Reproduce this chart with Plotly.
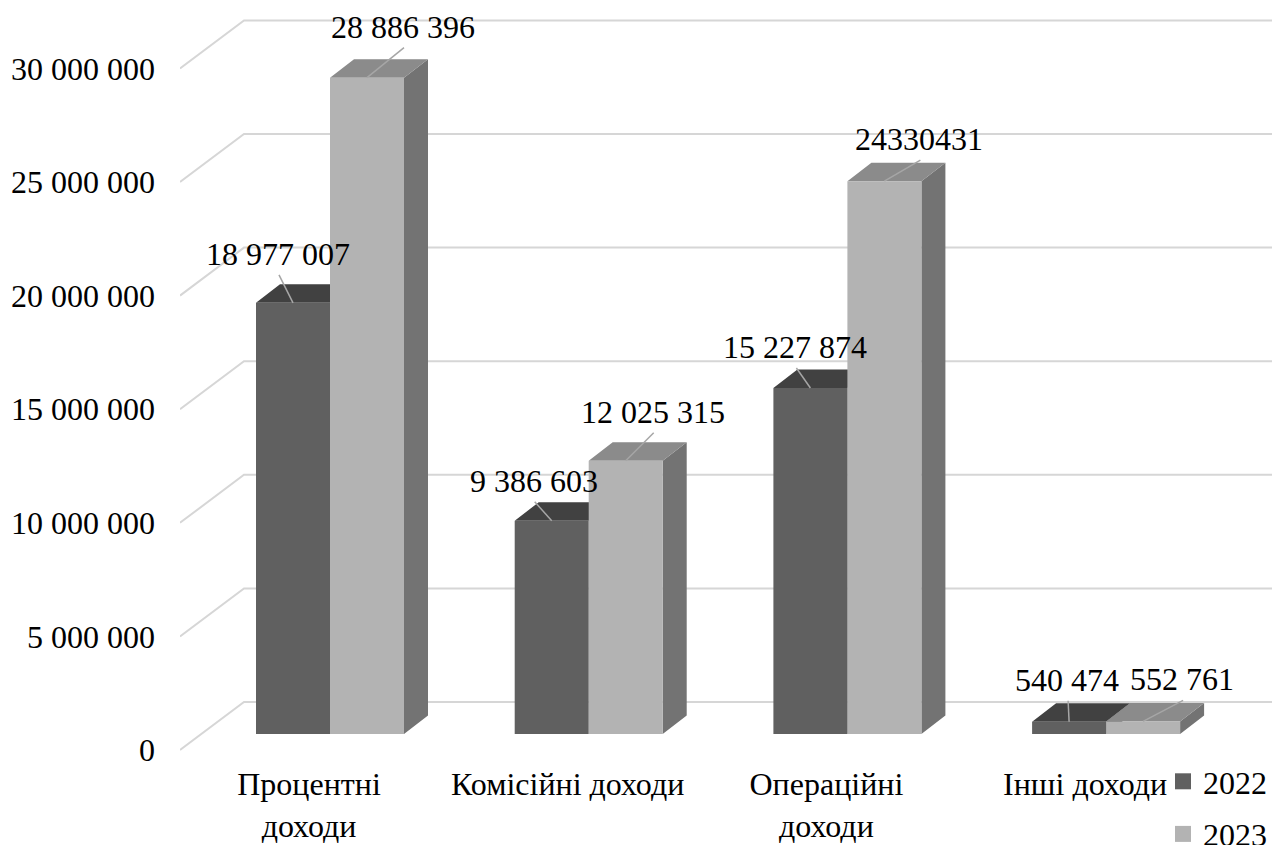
import plotly.graph_objects as go

# ---------------- data ----------------
CATEGORIES = ["Процентні<br>доходи", "Комісійні доходи", "Операційні<br>доходи", "Інші доходи"]
SERIES = ["2022", "2023"]
VALUES_2022 = [18977007, 9386603, 15227874, 540474]
VALUES_2023 = [28886396, 12025315, 24330431, 552761]
LABELS_2022 = ["18 977 007", "9 386 603", "15 227 874", "540 474"]
LABELS_2023 = ["28 886 396", "12 025 315", "24330431", "552 761"]
Y_TICKS = [0, 5000000, 10000000, 15000000, 20000000, 25000000, 30000000]
Y_TICK_TEXT = ["0", "5 000 000", "10 000 000", "15 000 000", "20 000 000", "25 000 000", "30 000 000"]

# ---------------- layout / style constants ----------------
W, H = 1272, 845
M_L, M_R, M_T, M_B = 180, 0, 0, 93
PLOT_W = W - M_L - M_R
PLOT_H = H - M_T - M_B
PX_PER_CAT = 258.7          # px between category groups
PX_PER_VAL = 22.72e-6       # px per value unit
ZERO_Y_PX = 750             # front plane zero (figure px)
GROUP0_X_PX = 330           # first group centre (figure px)

BAR_W_PX = 74
BAR_LIFT_PX = 16            # bar plane above front plane
DEPTH_DX_PX, DEPTH_DY_PX = 24, 18.5
WALL_X_PX = 244             # back wall left edge (figure px)
WALL_LIFT_PX = 48

FONT = "Liberation Serif"
FS = 32
C_FRONT = ["#606060", "#b3b3b3"]
C_TOP = ["#414141", "#8b8b8b"]
C_SIDE = ["#4d4d4d", "#737373"]
GRID_C = "#d6d6d6"
LEADER_C = "#a6a6a6"

# per-label nudge (px, right / up) relative to front-top-mid of bar
NUDGE_2022 = [(-15, 49), (-18, 40), (-15, 41), (-2, 42)]
NUDGE_2023 = [(36, 51), (27, 49), (35, 42), (39, 42)]


def dxu(px):
    return px / PX_PER_CAT


def dyu(px):
    return px / PX_PER_VAL


x_range = [dxu(M_L - GROUP0_X_PX), dxu(W - M_R - GROUP0_X_PX)]
y_range = [dyu(ZERO_Y_PX - (M_T + PLOT_H)), dyu(ZERO_Y_PX - M_T)]

BW = dxu(BAR_W_PX)
BASE = dyu(BAR_LIFT_PX)
DD = dxu(DEPTH_DX_PX)
DH = dyu(DEPTH_DY_PX)
WALL_X = dxu(WALL_X_PX - GROUP0_X_PX)
WALL_H = dyu(WALL_LIFT_PX)

fig = go.Figure()

# ---- gridlines (left wall diagonals + back wall horizontals) ----
gx, gy = [], []
for v in Y_TICKS:
    gx += [x_range[0], WALL_X, x_range[1], None]
    gy += [v, v + WALL_H, v + WALL_H, None]
fig.add_trace(go.Scatter(x=gx, y=gy, mode="lines", line=dict(color=GRID_C, width=2),
                         hoverinfo="skip", showlegend=False))


def faces(values, offset):
    front_x, front_y, top_x, top_y, side_x, side_y = [], [], [], [], [], []
    for i, v in enumerate(values):
        x0 = i + offset
        x1 = x0 + BW
        b, t = BASE, BASE + v
        front_x += [x0, x1, x1, x0, x0, None]
        front_y += [b, b, t, t, b, None]
        top_x += [x0, x1, x1 + DD, x0 + DD, x0, None]
        top_y += [t, t, t + DH, t + DH, t, None]
        side_x += [x1, x1 + DD, x1 + DD, x1, x1, None]
        side_y += [b, b + DH, t + DH, t, b, None]
    return (front_x, front_y), (top_x, top_y), (side_x, side_y)


for s, (vals, off) in enumerate([(VALUES_2022, -BW), (VALUES_2023, 0.0)]):
    (fx, fy), (tx, ty), (sx, sy) = faces(vals, off)
    for xs, ys, col in [(sx, sy, C_SIDE[s]), (tx, ty, C_TOP[s]), (fx, fy, C_FRONT[s])]:
        fig.add_trace(go.Scatter(x=xs, y=ys, mode="lines", fill="toself", fillcolor=col,
                                 line=dict(width=0, color=col), hoverinfo="skip",
                                 showlegend=False))

# ---- data labels with leader lines ----
lx, ly = [], []
for vals, labels, nudges, off in [(VALUES_2022, LABELS_2022, NUDGE_2022, -BW),
                                  (VALUES_2023, LABELS_2023, NUDGE_2023, 0.0)]:
    for i, (v, txt, (nx, ny)) in enumerate(zip(vals, labels, nudges)):
        mx = i + off + BW / 2
        my = BASE + v
        ax_, ay_ = mx + dxu(nx), my + dyu(ny)
        fig.add_annotation(x=ax_, y=ay_, text=txt, showarrow=False, xanchor="center",
                           yanchor="middle", font=dict(family=FONT, size=FS, color="#000000"))
        lx += [mx, ax_ + dxu(1), None]
        ly += [my, ay_ - dyu(21), None]
fig.add_trace(go.Scatter(x=lx, y=ly, mode="lines", line=dict(color=LEADER_C, width=1.5),
                         hoverinfo="skip", showlegend=False))

# ---- legend entries ----
for s, name in enumerate(SERIES):
    fig.add_trace(go.Scatter(x=[None], y=[None], mode="markers", name=name,
                             marker=dict(symbol="square", size=17, color=C_FRONT[s]),
                             legendgroup=name))

CAT_SHIFT = dxu(-21)
LEGEND_TOP_PX = 754
fig.update_layout(
    width=W, height=H,
    margin=dict(l=M_L, r=M_R, t=M_T, b=M_B, pad=0),
    paper_bgcolor="white", plot_bgcolor="white",
    font=dict(family=FONT, size=FS, color="#000000"),
    xaxis=dict(range=x_range, showgrid=False, zeroline=False, showline=False,
               tickmode="array", tickvals=[i + CAT_SHIFT for i in range(len(CATEGORIES))],
               ticktext=CATEGORIES, ticks="", ticklabelstandoff=10, fixedrange=True,
               automargin=False),
    yaxis=dict(range=y_range, showgrid=False, zeroline=False, showline=False,
               tickmode="array", tickvals=Y_TICKS, ticktext=Y_TICK_TEXT, ticks="",
               ticklabelstandoff=24, fixedrange=True, automargin=False),
    showlegend=True,
    legend=dict(x=(1172 - M_L) / PLOT_W, xanchor="left",
                yref="container", y=(H - LEGEND_TOP_PX) / H, yanchor="top",
                bgcolor="rgba(0,0,0,0)", borderwidth=0,
                font=dict(family=FONT, size=FS, color="#000000"),
                tracegroupgap=8, traceorder="grouped"),
)

fig.write_html("out.html", config={"displayModeBar": False})
